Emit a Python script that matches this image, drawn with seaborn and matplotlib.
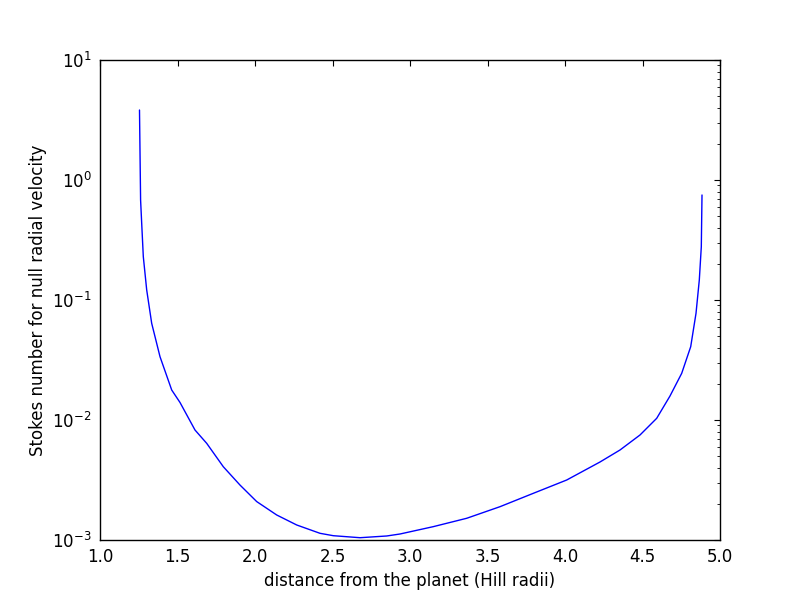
import pandas as pd
import seaborn as sns
from matplotlib import pyplot as plt

# distance from the planet (Hill radii)
distance = [1.2548, 1.2619, 1.2690, 1.2794, 1.3013, 1.3335, 1.3871, 1.4626,
            1.5161, 1.6129, 1.6884, 1.7955, 1.9032, 2.0110, 2.1400, 2.2690, 2.4194,
            2.5052, 2.6774, 2.8497, 2.9355, 3.1503, 3.3658, 3.5806, 3.7955,
            4.0110, 4.2258, 4.3548, 4.4839, 4.5916, 4.6774, 4.7529, 4.8110,
            4.8452, 4.8665, 4.8794, 4.8839]
# Stokes number for null radial velocity
stokes = [3.83, 0.681, 0.4355, 0.2297, 0.1212, 0.0639, 0.0337, 0.01778,
          0.0140, 0.00825, 0.00639, 0.00408, 0.00287, 0.00209, 0.001616, 0.001334, 0.001137,
          0.001086, 0.001045, 0.001080, 0.001122, 0.001292, 0.001517, 0.001895, 0.002449,
          0.003162, 0.004467, 0.005623, 0.0075, 0.01033, 0.01585, 0.02449, 0.04083,
          0.07743, 0.1468, 0.278, 0.75]


def main():
    sns.set_style('white')
    plt.rcParams.update({
        'font.family': ['DejaVu Sans'],
        'font.size': 12,
        'text.color': 'black',
        'axes.labelcolor': 'black',
        'mathtext.default': 'regular',
        'xtick.direction': 'in',
        'ytick.direction': 'in',
        'xtick.top': True,
        'ytick.right': True,
        'xtick.major.size': 4,
        'ytick.major.size': 4,
        'xtick.minor.size': 2,
        'ytick.minor.size': 2,
        'xtick.color': 'black',
        'ytick.color': 'black',
        'axes.edgecolor': 'black',
        'axes.linewidth': 1.0,
        'xtick.labelsize': 12,
        'ytick.labelsize': 12,
        'axes.labelsize': 12,
    })
    df = pd.DataFrame({'distance': distance, 'stokes': stokes})

    fig = plt.figure(figsize=(8, 6), dpi=100)
    ax = fig.add_axes([0.125, 0.1, 0.775, 0.8])
    sns.lineplot(x='distance', y='stokes', data=df, sort=False, estimator=None,
                 color='b', linewidth=1.0, ax=ax)
    ax.set_yscale('log')
    ax.set_xlim(1.0, 5.0)
    ax.set_ylim(1e-3, 1e1)
    ax.tick_params(which='both', direction='in', top=True, right=True)
    ax.tick_params(axis='both', which='major', pad=6)
    ax.set_xlabel('distance from the planet (Hill radii)')
    ax.set_ylabel('Stokes number for null radial velocity')
    fig.savefig('out.png', dpi=100, facecolor='white')


if __name__ == '__main__':
    main()
